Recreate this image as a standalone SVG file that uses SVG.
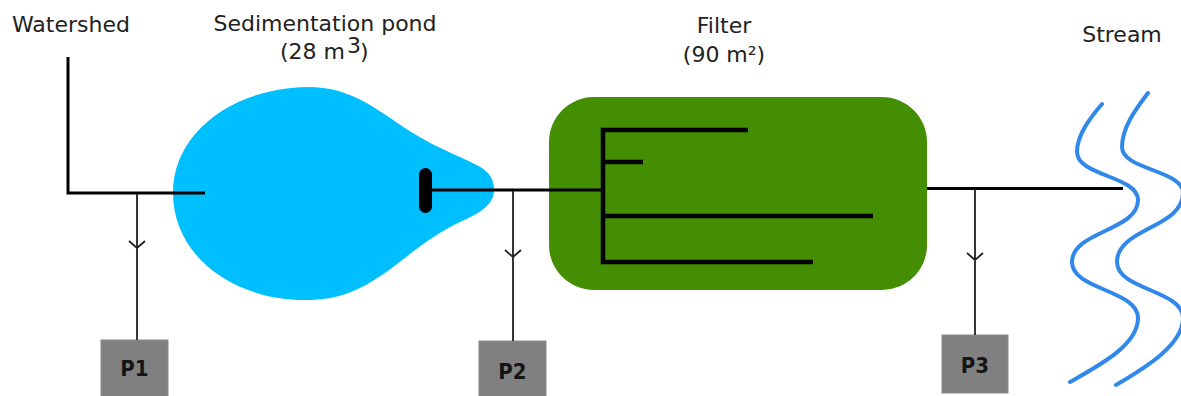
<svg xmlns="http://www.w3.org/2000/svg" width="1181" height="396" viewBox="0 0 1181 396">
<style>
.lbl{font-family:"DejaVu Sans","Verdana",sans-serif;font-size:22px;fill:#222}
.pl{font-family:"DejaVu Sans Condensed","Liberation Sans",Arial,sans-serif;font-weight:bold;font-size:22px;fill:#151515;text-anchor:middle}
.box{fill:#808080;stroke:#8a8a8a;stroke-width:1}
.pipe{fill:none;stroke:#000;stroke-width:3}
.tap{fill:none;stroke:#231f20;stroke-width:1.8}
.drain{fill:none;stroke:#000;stroke-width:4.5;stroke-linecap:butt}
.wave{fill:none;stroke:#2f88ea;stroke-width:4;stroke-linecap:round}
</style>
<rect width="1181" height="396" fill="#fff"/>
<g id="watershed">
<text class="lbl" x="12" y="32">Watershed</text>
</g>
<g id="pond">
<path fill="#00bfff" d="M173,193 C173,133 232,88 308,87 C350,87 375,108 405,128 C435,148 465,158 482,168 C492,175 494,182 494,190 C494,205 480,213 460,222 C430,236 410,255 385,273 C360,290 340,300 305,300 C232,300 173,255 173,193 Z"/>
<rect x="419" y="168" width="13" height="45" rx="6.5" fill="#000"/>
<text class="lbl" x="325" y="31" text-anchor="middle">Sedimentation pond</text>
<text class="lbl" x="280" y="59" font-size="20">(28 m</text>
<text class="lbl" x="347" y="52.5" font-size="16">3</text>
<text class="lbl" x="360" y="59" font-size="20">)</text>
</g>
<g id="filter">
<rect x="549" y="97" width="378" height="193" rx="45" fill="#438e03"/>
<path class="drain" d="M748,130 H603 V262 H813 M603,162 H643 M603,216 H873"/>
<text class="lbl" x="724" y="33" text-anchor="middle">Filter</text>
<text class="lbl" x="724" y="62" text-anchor="middle">(90 m²)</text>
</g>
<g id="stream">
<path class="wave" d="M1102,104 C1090,118 1077,135 1077,152 C1077,176 1138,176 1138,200 C1138,231 1072,231 1072,262 C1072,290 1138,290 1138,318 C1138,345 1100,365 1070,382"/>
<path class="wave" d="M1148,93 C1135,110 1122,128 1122,147 C1122,170 1183,170 1183,193 C1183,228 1117,228 1117,262 C1117,290 1183,290 1183,318 C1183,345 1145,368 1116,385"/>
<text class="lbl" x="1122" y="42" text-anchor="middle">Stream</text>
</g>
<g id="P1">
<rect class="box" x="101" y="340" width="67" height="58"/>
<text class="pl" x="134.5" y="376">P1</text>
</g>
<g id="P2">
<rect class="box" x="479" y="341" width="67" height="57"/>
<text class="pl" x="512.5" y="379">P2</text>
</g>
<g id="P3">
<rect class="box" x="942" y="335" width="66" height="58"/>
<text class="pl" x="975" y="373">P3</text>
</g>
<g id="connectors">
<path class="pipe" d="M68,57 V193 H205"/>
<path class="pipe" d="M432,190 H603"/>
<path class="pipe" d="M927,188.5 H1123"/>
<path class="tap" d="M137,194 V340 M129,241 L137,248 L145,241"/>
<path class="tap" d="M513,191 V341 M505,250 L513,257 L521,250"/>
<path class="tap" d="M975,190 V335 M967,253 L975,260 L983,253"/>
</g>
</svg>
